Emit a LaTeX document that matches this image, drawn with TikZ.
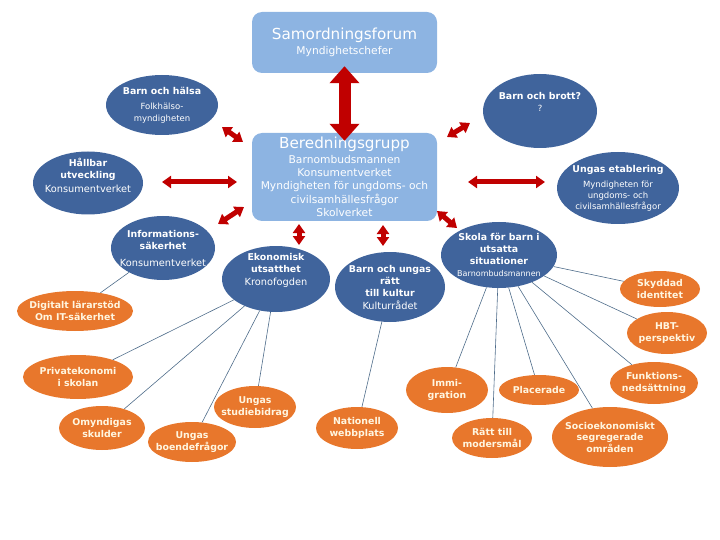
\documentclass[tikz,border=0pt]{standalone}
\usepackage{fontspec}
\setmainfont{DejaVu Sans}
\usepackage{xcolor}
\usetikzlibrary{arrows.meta}
\usetikzlibrary{shapes.geometric}
\definecolor{boxblue}{RGB}{141,180,226}
\definecolor{nodeblue}{RGB}{64,100,156}
\definecolor{nodeorange}{RGB}{232,119,44}
\definecolor{creamtext}{RGB}{255,246,224}
\definecolor{arrred}{RGB}{192,0,0}
\definecolor{linkgray}{RGB}{78,108,138}
\newcommand\ttl{\bfseries\fontsize{9.4}{12}\selectfont}
\newcommand\sub{\fontsize{9.8}{12}\selectfont}
\newcommand\smalltxt{\fontsize{8.5}{11}\selectfont}

\begin{document}
\begin{tikzpicture}[
    x=1pt,y=-1pt,
    forumbox/.style={rectangle,rounded corners=10pt,fill=boxblue,text=white,
      align=center,inner sep=0pt},
    bluenode/.style={ellipse,fill=nodeblue,text=white,align=center,inner sep=-10pt,
      font=\fontsize{9}{12}\selectfont},
    orangenode/.style={ellipse,fill=nodeorange,text=creamtext,align=center,inner sep=-6pt,
      font=\bfseries\fontsize{9.4}{11.5}\selectfont},
    link/.style={draw=linkgray,line width=0.6pt},
    redarr/.style={draw=arrred,line width=5pt,
      {Triangle[length=9pt,width=12pt]}-{Triangle[length=9pt,width=12pt]}},
    bigarr/.style={draw=arrred,line width=12pt,
      {Triangle[length=17pt,width=29pt]}-{Triangle[length=17pt,width=29pt]}},
  ]

  \useasboundingbox (0,0) rectangle (720,540);

  % FORUM AND GROUP
  \node[forumbox,minimum width=185pt,minimum height=61pt,
        font=\fontsize{10.7}{15}\selectfont] (samord) at (344.5,42.5)
    {\fontsize{15.2}{15}\selectfont Samordningsforum\\ Myndighetschefer};
  \node[forumbox,minimum width=185pt,minimum height=88pt,
        font=\fontsize{10.7}{13.3}\selectfont] (bered) at (344.5,177)
    {\fontsize{15.2}{15}\selectfont Beredningsgrupp\\[1pt]
     Barnombudsmannen\\ Konsumentverket\\ Myndigheten för ungdoms- och\\
     civilsamhällesfrågor\\ Skolverket};

  % BLUE AREAS
  \node[bluenode,minimum width=112pt,minimum height=60pt] (halsa) at (162,105)
    {\ttl Barn och hälsa\\[3pt] \smalltxt Folkhälso-\\ \smalltxt myndigheten};
  \node[bluenode,minimum width=114pt,minimum height=74pt] (brott) at (540,111)
    {\ttl Barn och brott?\\ \smalltxt ?\\[6pt]};
  \node[bluenode,minimum width=110pt,minimum height=63pt] (hallbar) at (88,183)
    {\ttl Hållbar\\ \ttl utveckling\\[2pt] \sub Konsumentverket\\[4pt]};
  \node[bluenode,minimum width=122pt,minimum height=72pt] (etabl) at (618,188)
    {\ttl Ungas etablering\\[3pt] \smalltxt Myndigheten för\\[-1pt] \smalltxt ungdoms- och\\[-1pt]
     \smalltxt civilsamhällesfrågor};
  \node[bluenode,minimum width=104pt,minimum height=64pt] (info) at (163,248)
    {\ttl Informations-\\ \ttl säkerhet\\[5pt] \sub Konsumentverket};
  \node[bluenode,minimum width=108pt,minimum height=66pt] (ekon) at (276,279)
    {\ttl Ekonomisk\\ \ttl utsatthet\\[1pt] \sub Kronofogden\\[8pt]};
  \node[bluenode,minimum width=110pt,minimum height=70pt] (kultur) at (390,287)
    {\ttl Barn och ungas\\ \ttl rätt\\ \ttl till kultur\\[1pt] \sub Kulturrådet};
  \node[bluenode,minimum width=116pt,minimum height=66pt] (skola) at (499,255)
    {\ttl Skola för barn i\\ \ttl utsatta\\ \ttl situationer\\
     \fontsize{8}{10}\selectfont Barnombudsmannen};

  % ORANGE TOPICS
  \node[orangenode,minimum width=80pt,minimum height=36pt] (skyddad) at (660,289)
    {Skyddad\\ identitet};
  \node[orangenode,minimum width=80pt,minimum height=42pt] (hbt) at (667,333)
    {HBT-\\ perspektiv};
  \node[orangenode,minimum width=116pt,minimum height=40pt] (digital) at (75,311)
    {Digitalt lärarstöd\\ Om IT-säkerhet};
  \node[orangenode,minimum width=110pt,minimum height=44pt] (privat) at (78,377)
    {Privatekonomi\\ i skolan};
  \node[orangenode,minimum width=86pt,minimum height=44pt] (omynd) at (102,428)
    {Omyndigas\\ skulder};
  \node[orangenode,minimum width=88pt,minimum height=40pt] (boende) at (192,442)
    {Ungas\\ boendefrågor};
  \node[orangenode,minimum width=82pt,minimum height=42pt] (studie) at (255,407)
    {Ungas\\ studiebidrag};
  \node[orangenode,minimum width=82pt,minimum height=42pt] (webb) at (357,428)
    {Nationell\\ webbplats};
  \node[orangenode,minimum width=82pt,minimum height=46pt] (immig) at (447,390)
    {Immi-\\ gration};
  \node[orangenode,minimum width=80pt,minimum height=30pt] (placer) at (539,390)
    {Placerade};
  \node[orangenode,minimum width=80pt,minimum height=40pt] (moders) at (492,438)
    {Rätt till\\ modersmål};
  \node[orangenode,minimum width=88pt,minimum height=42pt] (funk) at (654,383)
    {Funktions-\\ nedsättning};
  \node[orangenode,minimum width=116pt,minimum height=60pt] (socio) at (610,437)
    {Socioekonomiskt\\ segregerade\\ områden};

  % LINKS
  \draw[link] (info) -- (digital);
  \foreach \t in {privat,omynd,boende,studie}
    \draw[link] (ekon) -- (\t);
  \draw[link] (kultur) -- (webb);
  \foreach \t in {skyddad,hbt,funk,socio,placer,moders,immig}
    \draw[link] (skola) -- (\t);

  % ARROWS
  \draw[bigarr] ([yshift=7pt]samord.south) -- ([yshift=-8pt]bered.north);
  \coordinate (halsaA) at (222,127);  \coordinate (halsaB) at (243,142);
  \coordinate (brottA) at (447,137);  \coordinate (brottB) at (470,123);
  \coordinate (hallbA) at (162,182);  \coordinate (hallbB) at (237,182);
  \coordinate (etablA) at (468,182);  \coordinate (etablB) at (545,182);
  \coordinate (infoA)  at (218,224);  \coordinate (infoB)  at (244,207);
  \coordinate (ekonA)  at (299,224);  \coordinate (ekonB)  at (299,245);
  \coordinate (kultA)  at (383,225);  \coordinate (kultB)  at (383,246);
  \coordinate (skolaA) at (437,211);  \coordinate (skolaB) at (457,228);
  \foreach \a in {halsa,brott,hallb,etabl,info,ekon,kult,skola}
    \draw[redarr] (\a A) -- (\a B);

\end{tikzpicture}
\end{document}
